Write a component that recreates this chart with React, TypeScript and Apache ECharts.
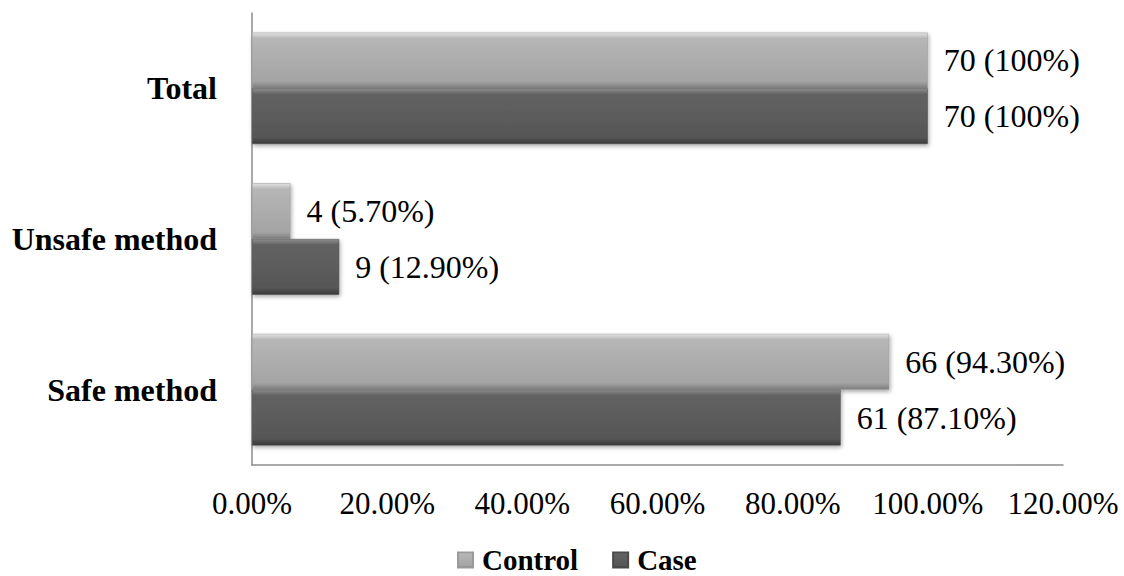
import React, { useEffect, useRef } from "react";
import * as echarts from "echarts";

const categories = ["Safe method", "Unsafe method", "Total"];
const controlPct = [94.3, 5.7, 100];
const casePct = [87.1, 12.9, 100];
const controlCount = [66, 4, 70];
const caseCount = [61, 9, 70];
const controlPctText = ["94.30%", "5.70%", "100%"];
const casePctText = ["87.10%", "12.90%", "100%"];
const xTicks = [0, 20, 40, 60, 80, 100, 120];

const FONT = "Liberation Serif, Times New Roman, serif";

const bevel = (top: string, mid: string, low: string, bottom: string) =>
  new echarts.graphic.LinearGradient(0, 0, 0, 1, [
    { offset: 0, color: top },
    { offset: 0.1, color: mid },
    { offset: 0.88, color: low },
    { offset: 1, color: bottom },
  ]);

export default function App() {
  const ref = useRef<HTMLDivElement>(null);

  useEffect(() => {
    if (!ref.current) return;
    const chart = echarts.init(ref.current, undefined, { renderer: "svg" });

    const labelFor = (counts: number[], texts: string[]) => ({
      show: true,
      position: "right" as const,
      distance: 16,
      fontFamily: FONT,
      fontSize: 32,
      color: "#000",
      formatter: (p: any) => `${counts[p.dataIndex]} (${texts[p.dataIndex]})`,
    });

    const shadow = {
      shadowBlur: 4,
      shadowOffsetX: 1,
      shadowOffsetY: 2,
      shadowColor: "rgba(0,0,0,0.35)",
    };

    chart.setOption({
      animation: false,
      backgroundColor: "#fff",
      grid: { left: 252, right: 61, top: 13, bottom: 111, containLabel: false },
      legend: {
        top: 545,
        left: 457,
        padding: 0,
        icon: "rect",
        itemWidth: 15,
        itemHeight: 15,
        itemGap: 34,
        textStyle: {
          fontFamily: FONT,
          fontSize: 29,
          lineHeight: 30,
          fontWeight: "bold",
          color: "#000",
          padding: [0, 0, 0, 4],
        },
        data: ["Control", "Case"],
      },
      xAxis: {
        type: "value",
        min: 0,
        max: 120,
        interval: 20,
        axisLine: { show: true, lineStyle: { color: "#8c8c8c", width: 1.5 } },
        axisTick: { show: false },
        splitLine: { show: false },
        axisLabel: {
          margin: 23,
          fontFamily: FONT,
          fontSize: 31,
          color: "#000",
          formatter: (v: number) => (xTicks.includes(v) ? v.toFixed(2) + "%" : ""),
        },
      },
      yAxis: {
        type: "category",
        data: categories,
        axisLine: { show: true, lineStyle: { color: "#8c8c8c", width: 1.5 } },
        axisTick: { show: false },
        axisLabel: {
          margin: 35,
          fontFamily: FONT,
          fontSize: 32,
          fontWeight: "bold",
          color: "#000",
        },
      },
      series: [
        {
          name: "Control",
          type: "bar",
          data: controlPct,
          barGap: "0%",
          barCategoryGap: "26%",
          itemStyle: {
            color: bevel("#e2e2e2", "#b6b6b6", "#a4a4a4", "#7e7e7e"),
            borderColor: "#9a9a9a",
            borderWidth: 0.5,
            ...shadow,
          },
          label: labelFor(controlCount, controlPctText),
        },
        {
          name: "Case",
          type: "bar",
          data: casePct,
          barGap: "0%",
          barCategoryGap: "26%",
          itemStyle: {
            color: bevel("#8e8e8e", "#626262", "#565656", "#3a3a3a"),
            borderColor: "#4a4a4a",
            borderWidth: 0.5,
            ...shadow,
          },
          label: labelFor(caseCount, casePctText),
        },
      ],
    });

    return () => chart.dispose();
  }, []);

  return (
    <div
      ref={ref}
      style={{ position: "fixed", left: 0, top: 0, width: 1124, height: 576 }}
    />
  );
}
